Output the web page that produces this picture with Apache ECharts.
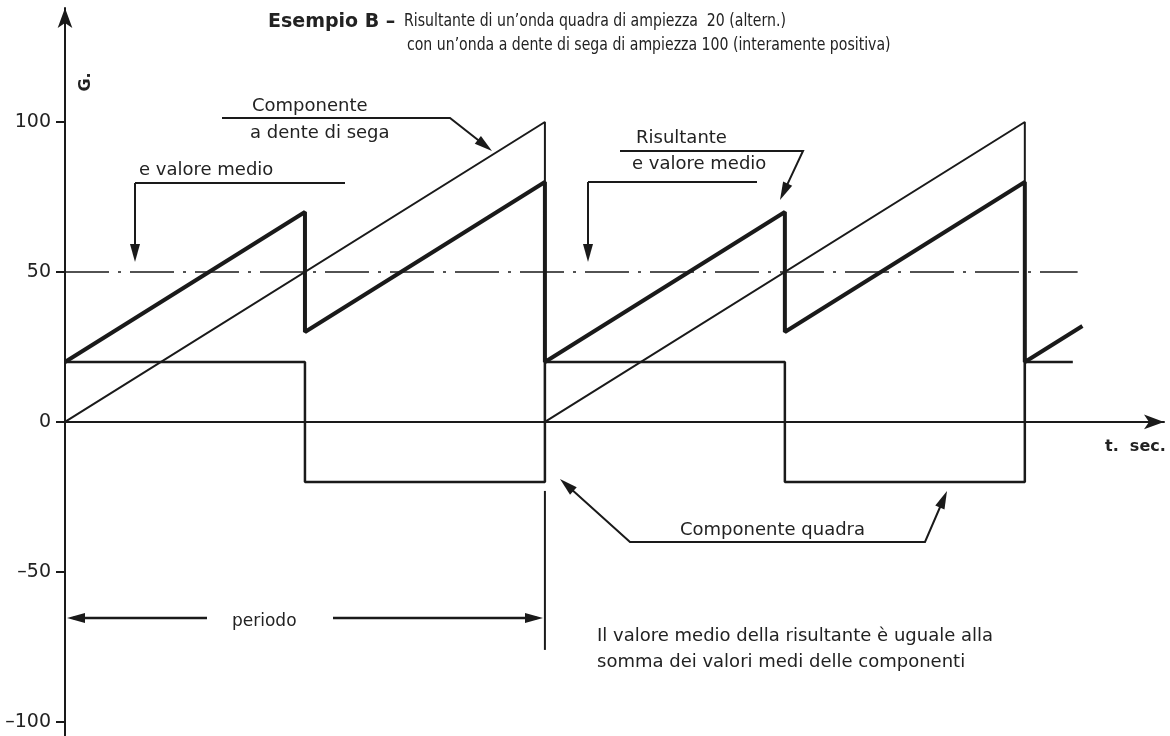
<!DOCTYPE html>
<html><head><meta charset="utf-8">
<script src="https://cdn.jsdelivr.net/npm/echarts@6/dist/echarts.min.js"></script>
<style>html,body{margin:0;padding:0;background:#fff}#c{width:1170px;height:736px}</style>
</head><body><div id="c"></div>
<script>
// ---- data ----
const yTicks = [-100, -50, 0, 50, 100];
const sawT = [0, 10, 10, 20, 20];
const sawV = [0, 100, 0, 100, 0];
const squareT = [0, 5, 5, 10, 10, 15, 15, 20, 20, 21];
const squareV = [20, 20, -20, -20, 20, 20, -20, -20, 20, 20];
const resT = [0, 5, 5, 10, 10, 15, 15, 20, 20, 21.2];
const resV = [20, 70, 30, 80, 20, 70, 30, 80, 20, 32];
const meanT = [0, 21.1];
const meanV = [50, 50];
const markT = [10, 10];
const markV = [-23, -76];

const zip = (a, b) => a.map((v, i) => [v, b[i]]);
const INK = '#1a1a1a';
const FONT = "'DejaVu Sans', sans-serif";
const NARROW = "'DejaVu Sans Condensed', 'Liberation Sans Narrow', 'Liberation Sans', sans-serif";

function arrow(pts, w) {
  const n = pts.length;
  const [tx, ty] = pts[n - 1], [px, py] = pts[n - 2];
  const dx = tx - px, dy = ty - py, len = Math.hypot(dx, dy);
  const ux = dx / len, uy = dy / len, L = 18, H = 5;
  const bx = tx - ux * L, by = ty - uy * L;
  const line = pts.slice(0, n - 1).concat([[tx - ux * 6, ty - uy * 6]]);
  return [
    { type: 'polyline', shape: { points: line }, style: { stroke: INK, lineWidth: w || 2, fill: null }, z: 10 },
    { type: 'polygon', shape: { points: [[tx, ty], [bx - uy * H, by + ux * H], [bx + uy * H, by - ux * H]] }, style: { fill: INK }, z: 10 }
  ];
}
function seg(pts, w) {
  return { type: 'polyline', shape: { points: pts }, style: { stroke: INK, lineWidth: w || 2, fill: null }, z: 10 };
}
function txt(x, y, s, opt, extra) {
  return Object.assign({ type: 'text', x: x, y: y, z: 10,
    style: Object.assign({ text: s, fill: '#222', font: '18px ' + FONT, textVerticalAlign: 'middle' }, opt || {}) }, extra || {});
}

const graphics = [].concat(
  [txt(268, 22, 'Esempio B –', { font: '600 19px ' + FONT })],
  [txt(404, 21, 'Risultante di un’onda quadra di ampiezza  20 (altern.)', { font: '18px ' + NARROW }, { scaleX: 0.87 })],
  [txt(407, 45, 'con un’onda a dente di sega di ampiezza 100 (interamente positiva)', { font: '18px ' + NARROW }, { scaleX: 0.87 })],
  [{ type: 'text', x: 86, y: 82, rotation: Math.PI / 2, z: 10,
     style: { text: 'G.', fill: '#222', font: 'bold 16px ' + FONT, textAlign: 'center', textVerticalAlign: 'middle' } }],
  [txt(252, 106, 'Componente'), txt(250, 133, 'a dente di sega')],
  arrow([[222, 118], [450, 118], [492, 151]]),
  [txt(139, 170, 'e valore medio')],
  [seg([[345, 183], [135, 183]])],
  arrow([[135, 183], [135, 262]]),
  [txt(636, 138, 'Risultante'), txt(632, 164, 'e valore medio')],
  arrow([[620, 151], [803, 151], [780, 200]]),
  [seg([[757, 182], [588, 182]])],
  arrow([[588, 182], [588, 262]]),
  [txt(680, 530, 'Componente quadra')],
  arrow([[925, 542], [630, 542], [560, 479]]),
  arrow([[630, 542], [925, 542], [947, 491]]),
  [txt(232, 622, 'periodo', { font: '17px ' + FONT })],
  arrow([[207, 618], [67, 618]], 2.5),
  arrow([[333, 618], [543, 618]], 2.5),
  [txt(597, 636, 'Il valore medio della risultante è uguale alla'),
   txt(597, 662, 'somma dei valori medi delle componenti')],
  [txt(1105, 447, 't.  sec.', { font: 'bold 16px ' + FONT })]
);

const chart = echarts.init(document.getElementById('c'), null, { renderer: 'canvas' });
chart.setOption({
  animation: false,
  backgroundColor: '#fff',
  grid: { left: 65, top: 8, width: 1099, height: 728 },
  xAxis: {
    type: 'value', min: 0, max: 22.9,
    axisLine: { show: true, onZero: true, symbol: ['none', 'arrow'], symbolSize: [11, 20], lineStyle: { color: INK, width: 2 } },
    axisTick: { show: false }, axisLabel: { show: false }, splitLine: { show: false }
  },
  yAxis: {
    type: 'value', min: -104.7, max: 138,
    axisLine: { show: true, onZero: false, symbol: ['none', 'arrow'], symbolSize: [11, 20], lineStyle: { color: INK, width: 2 } },
    axisTick: { show: true, customValues: yTicks, length: 9, lineStyle: { color: INK, width: 2 } },
    axisLabel: { show: true, customValues: yTicks, color: '#222', fontSize: 19, fontFamily: 'DejaVu Sans', margin: 14,
      formatter: v => String(v).replace('-', '–') },
    splitLine: { show: false }
  },
  series: [
    { type: 'line', data: zip(meanT, meanV), showSymbol: false, silent: true,
      lineStyle: { color: INK, width: 1.5, type: [44, 9, 3, 9] } },
    { type: 'line', data: zip(squareT, squareV), showSymbol: false, silent: true,
      lineStyle: { color: INK, width: 2.5 } },
    { type: 'line', data: zip(sawT, sawV), showSymbol: false, silent: true,
      lineStyle: { color: INK, width: 2 } },
    { type: 'line', data: zip(resT, resV), showSymbol: false, silent: true,
      lineStyle: { color: INK, width: 4 } },
    { type: 'line', data: zip(markT, markV), showSymbol: false, silent: true,
      lineStyle: { color: INK, width: 2 } }
  ],
  graphic: graphics
});
</script></body></html>
